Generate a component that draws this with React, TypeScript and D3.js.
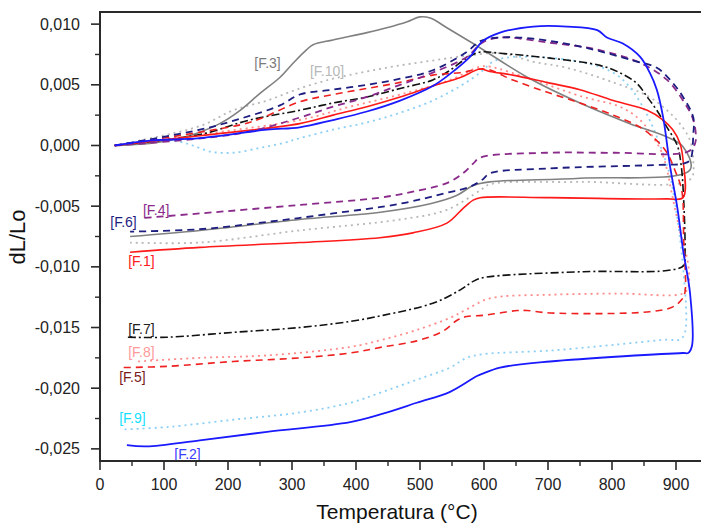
import React from "react";
import * as d3 from "d3";

type P = [number, number];

// ---- data: [temperature °C, dL/Lo] ----
const f1: P[] = [
  [23, 0], [156, 0.0008], [312, 0.0018], [364, 0.0025], [417, 0.0032], [469, 0.004], [520, 0.0049],
  [563, 0.0056], [594, 0.0063], [609, 0.0061], [645, 0.0058], [698, 0.0052], [750, 0.0046], [802, 0.0037],
  [855, 0.0029], [880, 0.0021], [895, 0.0013], [906, 0.0002], [911, -0.0012], [911, -0.0043],
  [886, -0.0044], [703, -0.0043], [594, -0.0043], [583, -0.0045], [567, -0.0052], [542, -0.0064],
  [489, -0.0072], [437, -0.0076], [312, -0.008], [156, -0.0084], [47, -0.0088],
];
const f2: P[] = [
  [23, 0], [78, 0.0004], [156, 0.0006], [261, 0.0013], [312, 0.0015], [364, 0.0021], [417, 0.0028],
  [469, 0.0037], [520, 0.0049], [547, 0.0059], [578, 0.0073], [598, 0.0086], [625, 0.0093], [677, 0.0098],
  [730, 0.0098], [777, 0.0095], [792, 0.0089], [817, 0.0084], [844, 0.0073], [859, 0.006], [870, 0.0046],
  [880, 0.0023], [891, -0.0018], [902, -0.0051], [911, -0.0086], [922, -0.0122], [925, -0.0165],
  [919, -0.0171], [911, -0.0171], [703, -0.0178], [625, -0.0183], [598, -0.0188], [589, -0.019],
  [547, -0.0203], [495, -0.0212], [442, -0.0221], [391, -0.0228], [261, -0.0236], [156, -0.0243],
  [73, -0.0248], [42, -0.0247],
];
const f3: P[] = [
  [23, 0], [62, 0.0001], [94, 0.0003], [125, 0.0006], [156, 0.0011], [187, 0.0018], [219, 0.0029],
  [250, 0.0043], [281, 0.0056], [302, 0.0068], [323, 0.0079], [333, 0.0083], [364, 0.0087], [417, 0.0093],
  [448, 0.0097], [480, 0.0102], [500, 0.0106], [516, 0.0105], [542, 0.0097], [583, 0.0084], [672, 0.0055],
  [750, 0.0035], [828, 0.0018], [886, 0.0007], [911, -0.0001], [922, -0.002],
  [750, -0.0027], [609, -0.003], [583, -0.0033], [558, -0.0041], [516, -0.0048], [438, -0.0055],
  [312, -0.0061], [156, -0.007], [47, -0.0075],
];
const f4: P[] = [
  [23, 0], [219, 0.001], [312, 0.0023], [364, 0.0032], [417, 0.004], [469, 0.005], [520, 0.006],
  [573, 0.0073], [598, 0.0085], [625, 0.0089], [698, 0.0085], [777, 0.0079], [844, 0.0068], [886, 0.0054],
  [911, 0.0037], [927, 0.0021], [930, 0.0002], [919, -0.0005],
  [802, -0.0006], [698, -0.0006], [594, -0.001], [583, -0.0015], [567, -0.0023], [542, -0.0031],
  [489, -0.0038], [437, -0.0043], [312, -0.0049], [156, -0.0056], [62, -0.006],
];
const f5: P[] = [
  [23, 0], [219, 0.0017], [250, 0.0022], [312, 0.0036], [364, 0.0042], [417, 0.0047], [469, 0.0052],
  [520, 0.0058], [563, 0.006], [602, 0.0063], [645, 0.0054], [698, 0.0044], [750, 0.0035], [802, 0.0025],
  [844, 0.0015], [870, 0.0004], [886, -0.0006], [898, -0.002], [909, -0.0037], [912, -0.0078],
  [914, -0.0121], [909, -0.0127],
  [895, -0.0133], [859, -0.0137], [703, -0.0138], [667, -0.0136], [652, -0.0136], [625, -0.0138],
  [598, -0.014], [573, -0.0141], [558, -0.0144], [536, -0.0153], [495, -0.0161], [442, -0.0166],
  [391, -0.0171], [312, -0.0175], [208, -0.0178], [105, -0.0182], [36, -0.0183],
];
const f6: P[] = [
  [23, 0], [156, 0.0013], [219, 0.0022], [281, 0.0033], [312, 0.0042], [364, 0.0046], [417, 0.005],
  [469, 0.0055], [520, 0.0062], [573, 0.0077], [594, 0.0086], [625, 0.0089], [677, 0.0088], [755, 0.0081],
  [833, 0.007], [870, 0.0064], [891, 0.0054], [911, 0.004], [927, 0.0023], [927, 0.0009], [922, -0.0012],
  [911, -0.0015],
  [875, -0.0016], [698, -0.0019], [609, -0.0023], [598, -0.0028], [578, -0.0034], [542, -0.0039],
  [469, -0.0048], [364, -0.0056], [261, -0.0063], [156, -0.0069], [47, -0.0071],
];
const f7: P[] = [
  [23, 0], [156, 0.0009], [234, 0.0021], [312, 0.0029], [364, 0.0035], [417, 0.004], [469, 0.0047],
  [520, 0.0054], [547, 0.0062], [573, 0.0072], [594, 0.0077], [625, 0.0076], [703, 0.0072], [781, 0.0066],
  [812, 0.006], [839, 0.0051], [855, 0.004], [870, 0.0029], [886, 0.0015], [902, 0], [908, -0.0016],
  [912, -0.0045], [914, -0.0089], [912, -0.0099],
  [886, -0.0103], [755, -0.0104], [598, -0.0109], [583, -0.0112], [563, -0.0119], [520, -0.013],
  [442, -0.014], [391, -0.0145], [312, -0.015], [208, -0.0154], [105, -0.0158], [42, -0.0158],
];
const f8: P[] = [
  [23, 0], [156, 0.0009], [312, 0.0021], [391, 0.0032], [469, 0.0042], [547, 0.0054], [594, 0.0065],
  [609, 0.0065], [677, 0.0054], [755, 0.004], [812, 0.0032], [844, 0.0021], [864, 0.0007], [878, -0.0006],
  [886, -0.002], [894, -0.0041], [906, -0.007], [919, -0.0098], [919, -0.0117], [911, -0.0122],
  [808, -0.0122], [703, -0.0123], [609, -0.0126], [573, -0.0135], [547, -0.0142], [495, -0.0152],
  [442, -0.016], [391, -0.0166], [261, -0.0173], [156, -0.0175], [58, -0.0178],
];
const f9: P[] = [
  [23, 0], [78, 0.0004], [125, 0.0003], [145, 0], [172, -0.0005], [208, -0.0006], [250, -0.0002],
  [286, 0.0002], [312, 0.0006], [364, 0.0013], [417, 0.0019], [469, 0.0027], [520, 0.0037], [563, 0.0049],
  [594, 0.006], [614, 0.0069], [645, 0.0073], [750, 0.0069], [802, 0.006], [828, 0.0048], [848, 0.0032],
  [864, 0.0015], [878, -0.0004], [891, -0.0026], [911, -0.01], [914, -0.0154], [906, -0.016],
  [886, -0.016], [808, -0.0164], [703, -0.0169], [598, -0.0172], [573, -0.0175], [547, -0.0183],
  [495, -0.0193], [442, -0.0203], [391, -0.0212], [312, -0.022], [208, -0.0226], [105, -0.0232],
  [36, -0.0234],
];
const f10: P[] = [
  [23, 0], [156, 0.0016], [208, 0.0029], [261, 0.0037], [312, 0.0047], [364, 0.0055], [417, 0.0061],
  [469, 0.0066], [520, 0.007], [573, 0.0074], [625, 0.0076], [677, 0.0069], [730, 0.0064], [802, 0.0052],
  [855, 0.0041], [886, 0.0029], [906, 0.0018], [922, 0.0004], [927, -0.0012], [922, -0.0028],
  [750, -0.003], [609, -0.0032], [594, -0.0037], [542, -0.0053], [469, -0.0061], [312, -0.007],
  [156, -0.008], [47, -0.008],
];

const seriesNames = ["F.10", "F.9", "F.8", "F.3", "F.7", "F.5", "F.1", "F.4", "F.6", "F.2"];
const seriesData: Record<string, P[]> = {
  "F.1": f1, "F.2": f2, "F.3": f3, "F.4": f4, "F.5": f5,
  "F.6": f6, "F.7": f7, "F.8": f8, "F.9": f9, "F.10": f10,
};

// label anchor points (temperature, dL/Lo)
const labelNames = ["F.3", "F.10", "F.4", "F.6", "F.1", "F.7", "F.8", "F.5", "F.9", "F.2"];
const labelT = [241, 328, 67, 16, 44, 44, 44, 30, 30, 116];
const labelV = [0.0064, 0.0057, -0.0057, -0.0067, -0.0099, -0.0155, -0.0174, -0.0195, -0.0229, -0.0258];

const xTicks = [0, 100, 200, 300, 400, 500, 600, 700, 800, 900];
const yTicks = [0.01, 0.005, 0, -0.005, -0.01, -0.015, -0.02, -0.025];
const yTickLabels = ["0,010", "0,005", "0,000", "-0,005", "-0,010", "-0,015", "-0,020", "-0,025"];

// ---- styles ----
const lineStyle: Record<string, { color: string; dash: string; width: number }> = {
  "F.1": { color: "#ff1a1a", dash: "", width: 1.6 },
  "F.2": { color: "#1a1aff", dash: "", width: 1.8 },
  "F.3": { color: "#808080", dash: "", width: 1.6 },
  "F.4": { color: "#8a2a8a", dash: "7,5", width: 1.8 },
  "F.5": { color: "#ee2020", dash: "7,5", width: 1.6 },
  "F.6": { color: "#1e1e80", dash: "7,5", width: 1.8 },
  "F.7": { color: "#111111", dash: "8,3,2,3", width: 1.6 },
  "F.8": { color: "#ff8a8a", dash: "2,4", width: 1.8 },
  "F.9": { color: "#8ccff5", dash: "2,4", width: 1.8 },
  "F.10": { color: "#b8b8b8", dash: "2,4", width: 1.8 },
};
const labelColor: Record<string, string> = {
  "F.1": "#ff2020", "F.2": "#3a3aff", "F.3": "#7a7a7a", "F.4": "#8a2a8a", "F.5": "#7a1a1a",
  "F.6": "#1e1e80", "F.7": "#222222", "F.8": "#ff9a9a", "F.9": "#14e0ff", "F.10": "#b8b8b8",
};

const W = 701, H = 523;
const L = 100, R = 708, T = 12, B = 461;

export default function App() {
  const x = d3.scaleLinear().domain([0, 950]).range([L, R]);
  const y = d3.scaleLinear().domain([-0.026, 0.011]).range([B, T]);
  const line = d3
    .line<P>()
    .x((d) => x(d[0]))
    .y((d) => y(d[1]))
    .curve(d3.curveCatmullRom.alpha(0.5));

  const xMinor = d3.range(50, 950, 100);
  const yMinor = d3.range(-0.0225, 0.011, 0.005);
  const axisColor = "#2a2a2a";
  const font = "Liberation Sans, Arial, sans-serif";

  return (
    <svg width={W} height={H} style={{ position: "absolute", left: 0, top: 0, background: "#fff" }}>
      <rect x={0} y={0} width={W} height={H} fill="#fff" />
      {seriesNames.map((n) => {
        const s = lineStyle[n];
        return (
          <path
            key={n}
            d={line(seriesData[n]) || ""}
            fill="none"
            stroke={s.color}
            strokeWidth={s.width}
            strokeDasharray={s.dash || undefined}
            strokeLinejoin="round"
          />
        );
      })}
      {labelNames.map((n, i) => (
        <text key={n} x={x(labelT[i])} y={y(labelV[i])} fill={labelColor[n]} fontSize={14} fontFamily={font}>
          [{n}]
        </text>
      ))}
      {/* frame */}
      <line x1={L} y1={T} x2={W} y2={T} stroke={axisColor} strokeWidth={2} />
      <line x1={L} y1={T - 1} x2={L} y2={B + 1} stroke={axisColor} strokeWidth={2} />
      <line x1={L - 1} y1={B} x2={W} y2={B} stroke={axisColor} strokeWidth={2} />
      {/* x ticks */}
      {xTicks.map((t) => (
        <g key={"xt" + t}>
          <line x1={x(t)} x2={x(t)} y1={B} y2={B + 9} stroke={axisColor} strokeWidth={1.6} />
          <text x={x(t)} y={490} textAnchor="middle" fontSize={16} fontFamily={font} fill="#222">
            {t}
          </text>
        </g>
      ))}
      {xMinor.map((t) => (
        <line key={"xm" + t} x1={x(t)} x2={x(t)} y1={B} y2={B + 5} stroke={axisColor} strokeWidth={1.4} />
      ))}
      {/* y ticks */}
      {yTicks.map((t, i) => (
        <g key={"yt" + t}>
          <line x1={L - 9} x2={L} y1={y(t)} y2={y(t)} stroke={axisColor} strokeWidth={1.6} />
          <text x={80} y={y(t) + 5.5} textAnchor="end" fontSize={16} fontFamily={font} fill="#222">
            {yTickLabels[i]}
          </text>
        </g>
      ))}
      {yMinor.map((t) => (
        <line key={"ym" + t} x1={L - 5} x2={L} y1={y(t)} y2={y(t)} stroke={axisColor} strokeWidth={1.4} />
      ))}
      <text x={397} y={519} textAnchor="middle" fontSize={21} fontFamily={font} fill="#111">
        Temperatura (°C)
      </text>
      <text
        transform={`translate(25,237) rotate(-90)`}
        textAnchor="middle"
        fontSize={22}
        fontFamily={font}
        fill="#111"
      >
        dL/Lo
      </text>
    </svg>
  );
}
